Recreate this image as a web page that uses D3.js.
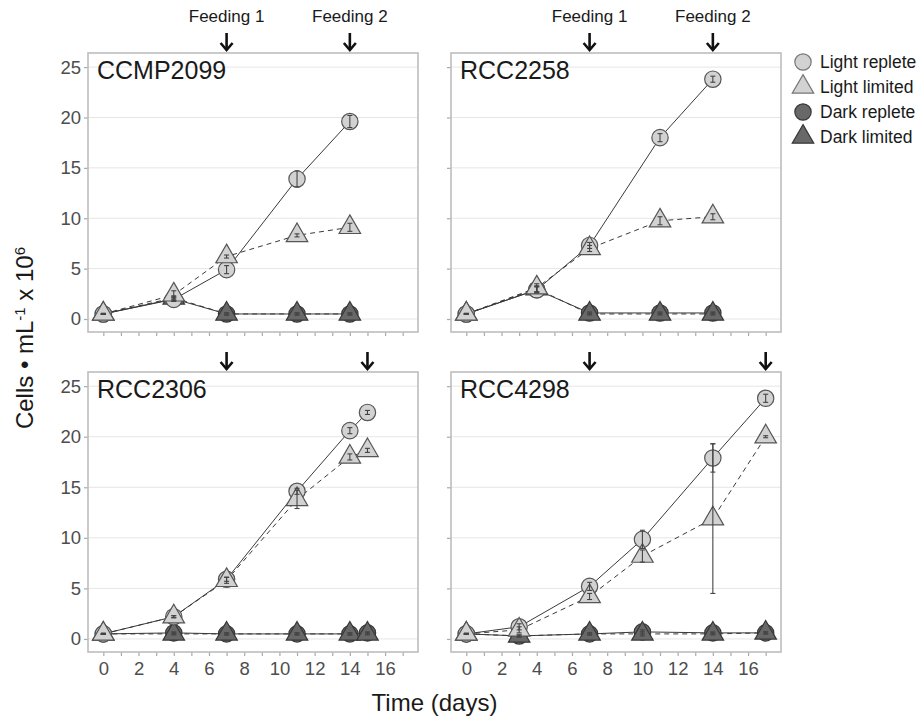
<!DOCTYPE html>
<html><head><meta charset="utf-8">
<script src="https://cdn.jsdelivr.net/npm/d3@7"></script>
<style>body{margin:0;background:#fff}svg{display:block;font-family:"Liberation Sans",Arial,Helvetica,sans-serif}</style>
</head><body><svg id="c" width="920" height="718"></svg>
<script>
// ---- data ----
const strains = ["CCMP2099","RCC2258","RCC2306","RCC4298"];
const seriesNames = ["Light replete","Light limited","Dark replete","Dark limited"];
const days = [[0,4,7,11,14],[0,4,7,11,14],[0,4,7,11,14,15],[0,3,7,10,14,17]];
const lightReplete = [[0.5,1.95,4.9,13.9,19.6],[0.5,2.9,7.3,18.0,23.8],[0.5,2.2,5.9,14.6,20.6,22.4],[0.5,1.2,5.2,9.85,17.9,23.8]];
const lightLimited = [[0.5,2.4,6.2,8.3,9.1],[0.5,3.1,7.0,9.75,10.15],[0.5,2.2,5.8,13.8,18.0,18.65],[0.5,0.9,4.2,8.2,11.9,20.0]];
const darkReplete = [[0.5,2.0,0.5,0.5,0.5],[0.5,2.9,0.6,0.6,0.6],[0.5,0.6,0.5,0.5,0.5,0.6],[0.5,0.3,0.5,0.7,0.6,0.6]];
const darkLimited = [[0.5,2.1,0.5,0.5,0.5],[0.5,3.0,0.5,0.5,0.5],[0.5,0.5,0.5,0.5,0.5,0.5],[0.5,0.3,0.5,0.5,0.5,0.6]];
const lightRepleteSd = [[0.05,0.2,0.4,0.8,0.6],[0.05,0.3,0.3,0.4,0.3],[0.05,0.1,0.2,0.3,0.3,0.2],[0.05,0.3,0.4,0.9,1.4,0.4]];
const lightLimitedSd = [[0.05,0.4,0.15,0.15,0.4],[0.05,0.4,0.3,0.4,0.3],[0.05,0.1,0.3,0.9,0.3,0.2],[0.05,0.3,0.3,0.6,7.4,0.1]];
const darkSd = [[0.05,0.2,0.1,0.1,0.1],[0.05,0.3,0.1,0.1,0.1],[0.05,0.1,0.1,0.1,0.1,0.1],[0.05,0.1,0.1,0.2,0.1,0.1]];
const feedings = [[7,14],[7,14],[7,15],[7,17]];
const feedingLabels = ["Feeding 1","Feeding 2"];
const yTicks = [0,5,10,15,20,25];
const xTicks = d3.range(0,18);
const xLabels = [0,2,4,6,8,10,12,14,16];

// ---- layout ----
const panels = [
  {x0:88,x1:418,y0:53,y1:332},
  {x0:451,x1:781,y0:53,y1:332},
  {x0:88,x1:418,y0:372,y1:652},
  {x0:451,x1:781,y0:372,y1:652}
];
const svg = d3.select("#c");
const lightFill="#d2d2d2", lightStroke="#555", darkFill="#686868", darkStroke="#383838";
const styleOf = {
  "Light replete":{fill:lightFill,stroke:lightStroke,sym:d3.symbolCircle,size:210,dash:null},
  "Light limited":{fill:lightFill,stroke:lightStroke,sym:d3.symbolTriangle,size:200,dash:"5,4"},
  "Dark replete":{fill:darkFill,stroke:darkStroke,sym:d3.symbolCircle,size:210,dash:null},
  "Dark limited":{fill:darkFill,stroke:darkStroke,sym:d3.symbolTriangle,size:200,dash:"5,4"}
};

panels.forEach((p,i)=>{
  const x = d3.scaleLinear().domain([-0.87,17.87]).range([p.x0,p.x1]);
  const y = d3.scaleLinear().domain([-1.29,26.4]).range([p.y1,p.y0]);
  const g = svg.append("g");
  // grid
  g.selectAll(".grid").data(yTicks).join("line")
    .attr("x1",p.x0).attr("x2",p.x1).attr("y1",d=>y(d)).attr("y2",d=>y(d))
    .attr("stroke","#e6e6e6").attr("stroke-width",1);
  // x axis ticks
  const xa = g.append("g").attr("transform",`translate(0,${p.y1})`)
    .call(d3.axisBottom(x).tickValues(xTicks).tickSize(4).tickFormat(d=> (i>=2 && xLabels.includes(d)) ? d : ""));
  xa.select(".domain").remove();
  xa.selectAll(".tick line").attr("stroke","#aaa").attr("stroke-width",1.2);
  xa.selectAll(".tick text").attr("fill","#4d4d4d").style("font-size","18.5px").attr("y",10);
  // y axis ticks
  const ya = g.append("g").attr("transform",`translate(${p.x0},0)`)
    .call(d3.axisLeft(y).tickValues(yTicks).tickSize(4).tickFormat(d=> (i%2===0) ? d : ""));
  ya.select(".domain").remove();
  ya.selectAll(".tick line").attr("stroke","#aaa").attr("stroke-width",1.2);
  ya.selectAll(".tick text").attr("fill","#4d4d4d").style("font-size","18.5px").attr("x",-7);

  const series = [
    {name:"Dark replete",v:darkReplete[i],sd:darkSd[i]},
    {name:"Dark limited",v:darkLimited[i],sd:darkSd[i]},
    {name:"Light replete",v:lightReplete[i],sd:lightRepleteSd[i]},
    {name:"Light limited",v:lightLimited[i],sd:lightLimitedSd[i]}
  ];
  const line = d3.line().x(d=>x(d[0])).y(d=>y(d[1]));
  series.forEach(s=>{
    const pts = days[i].map((d,k)=>[d,s.v[k],s.sd[k]]);
    g.append("path").attr("d",line(pts)).attr("fill","none")
      .attr("stroke","#3a3a3a").attr("stroke-width",1)
      .attr("stroke-dasharray",styleOf[s.name].dash);
  });
  series.forEach(s=>{
    const st = styleOf[s.name];
    const pts = days[i].map((d,k)=>[d,s.v[k],s.sd[k]]);
    g.selectAll(null).data(pts).join("path")
      .attr("d",d3.symbol().type(st.sym).size(st.size))
      .attr("transform",d=>`translate(${x(d[0])},${y(d[1])})`)
      .attr("fill",st.fill).attr("stroke",st.stroke).attr("stroke-width",1.2);
  });
  series.forEach(s=>{
    const pts = days[i].map((d,k)=>[d,s.v[k],s.sd[k]]);
    const eb = g.selectAll(null).data(pts).join("g");
    eb.append("line").attr("x1",d=>x(d[0])).attr("x2",d=>x(d[0]))
      .attr("y1",d=>y(d[1]-d[2])).attr("y2",d=>y(d[1]+d[2]))
      .attr("stroke","#444").attr("stroke-width",1.1);
    [-1,1].forEach(sg=>{
      eb.append("line").attr("x1",d=>x(d[0])-2.5).attr("x2",d=>x(d[0])+2.5)
        .attr("y1",d=>y(d[1]+sg*d[2])).attr("y2",d=>y(d[1]+sg*d[2]))
        .attr("stroke","#444").attr("stroke-width",1.1);
    });
  });
  // border
  g.append("rect").attr("x",p.x0).attr("y",p.y0).attr("width",p.x1-p.x0).attr("height",p.y1-p.y0)
    .attr("fill","none").attr("stroke","#bdbdbd").attr("stroke-width",1.6);
  // strain label
  g.append("text").attr("x",p.x0+9).attr("y",p.y0+26).text(strains[i])
    .attr("fill","#1a1a1a").style("font-size","25px");
  // feeding arrows
  feedings[i].forEach((f,k)=>{
    const ax = x(f), yb = p.y0-3, yt = p.y0-20;
    g.append("line").attr("x1",ax).attr("x2",ax).attr("y1",yt).attr("y2",yb)
      .attr("stroke","#111").attr("stroke-width",2.6);
    g.append("path").attr("d",`M${ax-6},${yb-7}L${ax},${yb}L${ax+6},${yb-7}`)
      .attr("fill","none").attr("stroke","#111").attr("stroke-width",2.6);
    if(i<2){
      g.append("text").attr("x",ax).attr("y",22).attr("text-anchor","middle")
        .text(feedingLabels[k]).attr("fill","#1a1a1a").style("font-size","17px");
    }
  });
});

// axis titles
svg.append("text").attr("x",434.5).attr("y",711).attr("text-anchor","middle")
  .style("font-size","24px").attr("fill","#1a1a1a").text("Time (days)");
const yt = svg.append("text").attr("transform","translate(33,338) rotate(-90)")
  .attr("text-anchor","middle").style("font-size","24px").attr("fill","#1a1a1a");
yt.append("tspan").text("Cells \u2022 mL");
yt.append("tspan").attr("baseline-shift","super").style("font-size","15px").text("-1");
yt.append("tspan").text(" x 10");
yt.append("tspan").attr("baseline-shift","super").style("font-size","15px").text("6");

// legend
const lg = svg.append("g");
seriesNames.forEach((n,k)=>{
  const st = styleOf[n];
  const ly = 62 + k*25;
  lg.append("path").attr("d",d3.symbol().type(st.sym).size(st.size))
    .attr("transform",`translate(803,${ly})`)
    .attr("fill",st.fill).attr("stroke",n.startsWith("Light")?"#777":darkStroke).attr("stroke-width",1.2);
  lg.append("text").attr("x",820).attr("y",ly).attr("dy","0.35em")
    .style("font-size","17.5px").attr("fill","#1a1a1a").text(n);
});
</script></body></html>
